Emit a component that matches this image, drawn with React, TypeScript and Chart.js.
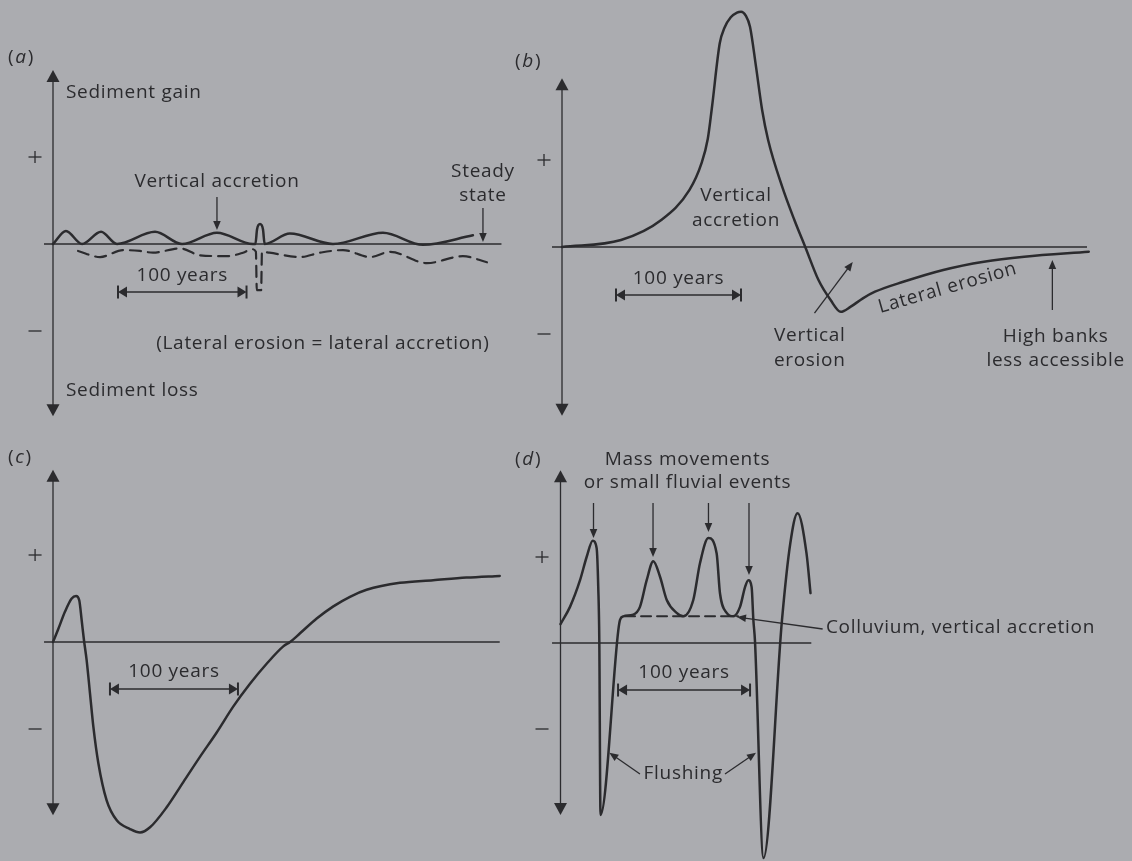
import React, { useEffect, useRef } from "react";
import { Chart, registerables } from "chart.js";

Chart.register(...registerables);

const W = 1132;
const H = 861;
const BG = "#abacb0";
const INK = "#2b2b2e";
const FONT_FAMILY = '"Open Sans", "Noto Sans", sans-serif';
const FONT_SIZE = 19;

// ---------- DATA (x: years, y: relative sediment balance; + = 1, − = −1) ----------
// (a) steady state
const aVerticalYears = [0, 10.1, 22.6, 37.4, 49.8, 79.4, 100.4, 127.6, 155.6, 157.5, 158.8, 161.1, 163.4, 164.7, 184.4, 217.9, 256.8, 287.9, 326.8];
const aVerticalValues = [0, 0.15, 0, 0.14, 0, 0.14, 0, 0.13, 0, 0, 0.17, 0.23, 0.17, 0, 0.12, 0, 0.13, -0.01, 0.1];
const aLateralYears = [19.5, 36.6, 54.5, 67.7, 77.8, 98.8, 114.4, 135.4, 147.9, 154.9, 157.9, 158.6, 162.0, 162.6, 168.4, 192.2, 207.8, 225.7, 246.7, 262.3, 291, 319, 337.7];
const aLateralValues = [-0.08, -0.15, -0.07, -0.08, -0.1, -0.05, -0.13, -0.14, -0.1, -0.06, -0.09, -0.53, -0.53, -0.09, -0.1, -0.15, -0.1, -0.07, -0.15, -0.09, -0.22, -0.14, -0.21];

// (b)
const bYears = [0, 47.2, 79.4, 102, 111.7, 116.6, 119.8, 126.2, 130, 135, 140, 143.3, 147, 150.4, 155.2, 160.1, 164.9, 176.2, 185.9, 194.6, 205.2, 214.9, 223, 231, 240.7, 250.4, 273, 305, 337.5, 369.8, 421.4];
const bValues = [0, 0.08, 0.31, 0.656, 0.966, 1.241, 1.586, 2.341, 2.52, 2.64, 2.695, 2.705, 2.66, 2.532, 2.073, 1.575, 1.23, 0.69, 0.31, 0, -0.38, -0.61, -0.745, -0.686, -0.59, -0.514, -0.4, -0.264, -0.169, -0.111, -0.054];

// (c)
const cYears = [0, 3.9, 9.4, 14.6, 18, 20.5, 22.4, 24.2, 26.3, 28.9, 31.5, 35.4, 41.9, 49.8, 60.2, 68, 75.8, 88.8, 101.8, 114.8, 127.9, 140.9, 153.9, 166.9, 179.9, 185.2, 193, 206, 219, 232, 245, 271, 297, 323, 349];
const cValues = [0, 0.14, 0.35, 0.5, 0.53, 0.48, 0.25, 0.02, -0.21, -0.59, -0.97, -1.39, -1.82, -2.05, -2.15, -2.19, -2.13, -1.9, -1.61, -1.32, -1.04, -0.74, -0.48, -0.25, -0.05, 0, 0.1, 0.27, 0.41, 0.52, 0.6, 0.68, 0.71, 0.74, 0.76];

// (d)
const dYears = [0, 7.2, 14.8, 19.8, 24.4, 27.4, 28.6, 29.4, 30.3, 43.8, 45.1, 47.6, 55.2, 60.2, 65.3, 70.3, 75.4, 80.5, 88, 93, 100.6, 105.7, 112, 118.3, 120.8, 125.9, 130.9, 136, 139.8, 142.3, 144.8, 146.1, 147.3, 153.8, 167.8, 174.1, 179.6, 186.4, 189.4];
const dValues = [0.22, 0.42, 0.73, 1.0, 1.19, 1.1, 0.65, 0.03, -2.0, 0.15, 0.27, 0.31, 0.33, 0.42, 0.73, 0.95, 0.77, 0.5, 0.35, 0.31, 0.5, 0.93, 1.22, 1.04, 0.58, 0.35, 0.31, 0.42, 0.65, 0.73, 0.65, 0.27, 0.03, -2.5, 0.27, 1.16, 1.51, 1.04, 0.58];
const dColluviumYears = [48.9, 134.5];
const dColluviumValues = [0.31, 0.31];

// ---------- LAYOUT ----------
type Txt = { t: string; x: number; y: number; align?: CanvasTextAlign; rot?: number };
type Arr = [number, number, number, number];
type Series = { xs: number[]; ys: number[]; width: number; dash?: number[] };
type Panel = {
  id: string;
  originPx: number; pxPerYear: number; xMax: number;
  baselinePx: number; pxPerUnit: number; yMin: number; yMax: number;
  series: Series[];
  axis: [number, number];
  baseline: [number, number];
  labelPos: [number, number];
  signX: number;
  texts: Txt[];
  arrows: Arr[];
  bracket: { x0: number; x1: number; y: number; ty: number };
};

const panels: Panel[] = [
  {
    id: "a", originPx: 53, pxPerYear: 1.285, xMax: 349, baselinePx: 244, pxPerUnit: 87, yMin: -2, yMax: 2,
    series: [
      { xs: aVerticalYears, ys: aVerticalValues, width: 2.5 },
      { xs: aLateralYears, ys: aLateralValues, width: 2.2, dash: [11, 7] },
    ],
    axis: [-1.98, 2.0], baseline: [-7, 349], labelPos: [-35, 2.14], signX: -14,
    texts: [
      { t: "Sediment gain", x: 10.1, y: 1.736, align: "left" },
      { t: "Sediment loss", x: 10.1, y: -1.69, align: "left" },
      { t: "Vertical accretion", x: 127.6, y: 0.713 },
      { t: "Steady", x: 334.6, y: 0.828 },
      { t: "state", x: 334.6, y: 0.552 },
      { t: "(Lateral erosion = lateral accretion)", x: 210, y: -1.15 },
    ],
    arrows: [[127.6, 0.54, 127.6, 0.16], [334.6, 0.414, 334.6, 0.023]],
    bracket: { x0: 50.6, x1: 150.6, y: -0.552, ty: -0.368 },
  },
  {
    id: "b", originPx: 562, pxPerYear: 1.25, xMax: 420, baselinePx: 247, pxPerUnit: 87, yMin: -1.95, yMax: 2.8,
    series: [{ xs: bYears, ys: bValues, width: 2.5 }],
    axis: [-1.94, 1.94], baseline: [-8, 420], labelPos: [-37.6, 2.13], signX: -14.4,
    texts: [
      { t: "Vertical", x: 139.2, y: 0.586 },
      { t: "accretion", x: 139.2, y: 0.299 },
      { t: "Vertical", x: 198.2, y: -1.023 },
      { t: "erosion", x: 198.2, y: -1.31 },
      { t: "Lateral erosion", x: 308.5, y: -0.471, rot: -16 },
      { t: "High banks", x: 394.9, y: -1.034 },
      { t: "less accessible", x: 394.9, y: -1.31 },
    ],
    arrows: [[202, -0.759, 232.6, -0.172], [392.3, -0.724, 392.3, -0.149]],
    bracket: { x0: 43.2, x1: 143.2, y: -0.552, ty: -0.368 },
  },
  {
    id: "c", originPx: 53, pxPerYear: 1.28, xMax: 349, baselinePx: 642, pxPerUnit: 87, yMin: -2.25, yMax: 2,
    series: [{ xs: cYears, ys: cValues, width: 2.5 }],
    axis: [-1.99, 1.98], baseline: [-7, 349], labelPos: [-35.2, 2.115], signX: -14,
    texts: [],
    arrows: [],
    bracket: { x0: 44.5, x1: 144.5, y: -0.54, ty: -0.345 },
  },
  {
    id: "d", originPx: 560.5, pxPerYear: 1.32, xMax: 190, baselinePx: 643, pxPerUnit: 86, yMin: -2.52, yMax: 2.05,
    series: [
      { xs: dYears, ys: dValues, width: 2.5 },
      { xs: dColluviumYears, ys: dColluviumValues, width: 2, dash: [10, 6] },
    ],
    axis: [-2.0, 2.01], baseline: [-6.4, 190], labelPos: [-34.5, 2.128], signX: -14,
    texts: [
      { t: "Mass movements", x: 96.2, y: 2.128 },
      { t: "or small fluvial events", x: 96.2, y: 1.86 },
      { t: "Colluvium, vertical accretion", x: 201.1, y: 0.174, align: "left" },
      { t: "Flushing", x: 93, y: -1.523 },
    ],
    arrows: [
      [25, 1.628, 25, 1.221],
      [70.1, 1.628, 70.1, 1.0],
      [112.1, 1.628, 112.1, 1.29],
      [142.8, 1.628, 142.8, 0.79],
      [198.6, 0.163, 133.7, 0.302],
      [60.2, -1.523, 37, -1.276],
      [124.6, -1.523, 148.1, -1.276],
    ],
    bracket: { x0: 43.6, x1: 143.6, y: -0.547, ty: -0.349 },
  },
];

// ---------- drawing helpers ----------
function seg(ctx: CanvasRenderingContext2D, x1: number, y1: number, x2: number, y2: number) {
  ctx.beginPath();
  ctx.moveTo(x1, y1);
  ctx.lineTo(x2, y2);
  ctx.stroke();
}

function head(ctx: CanvasRenderingContext2D, tx: number, ty: number, dx: number, dy: number, len: number, hw: number) {
  const l = Math.hypot(dx, dy) || 1;
  const ux = dx / l, uy = dy / l;
  const bx = tx - ux * len, by = ty - uy * len;
  ctx.beginPath();
  ctx.moveTo(tx, ty);
  ctx.lineTo(bx - uy * hw, by + ux * hw);
  ctx.lineTo(bx + uy * hw, by - ux * hw);
  ctx.closePath();
  ctx.fill();
}

function arrow(ctx: CanvasRenderingContext2D, x1: number, y1: number, x2: number, y2: number) {
  const len = 9;
  const dx = x2 - x1, dy = y2 - y1;
  const l = Math.hypot(dx, dy) || 1;
  seg(ctx, x1, y1, x2 - (dx / l) * (len - 1), y2 - (dy / l) * (len - 1));
  head(ctx, x2, y2, dx, dy, len, 3.8);
}

function setFont(ctx: CanvasRenderingContext2D, italic = false) {
  ctx.font = `${italic ? "italic " : ""}${FONT_SIZE}px ${FONT_FAMILY}`;
  (ctx as any).letterSpacing = "0.7px";
}

function decor(p: Panel) {
  return {
    id: "decor" + p.id,
    beforeDatasetsDraw(chart: any) {
      const ctx: CanvasRenderingContext2D = chart.ctx;
      const X = (v: number) => chart.scales.x.getPixelForValue(v);
      const Y = (v: number) => chart.scales.y.getPixelForValue(v);
      ctx.save();
      ctx.strokeStyle = INK;
      ctx.fillStyle = INK;
      ctx.lineWidth = 1.3;
      seg(ctx, X(p.baseline[0]), Y(0), X(p.baseline[1]), Y(0));
      const ax = X(0);
      seg(ctx, ax, Y(p.axis[0]) - 6, ax, Y(p.axis[1]) + 6);
      head(ctx, ax, Y(p.axis[1]), 0, -1, 12, 6.5);
      head(ctx, ax, Y(p.axis[0]), 0, 1, 12, 6.5);
      ctx.restore();
    },
    afterDatasetsDraw(chart: any) {
      const ctx: CanvasRenderingContext2D = chart.ctx;
      const X = (v: number) => chart.scales.x.getPixelForValue(v);
      const Y = (v: number) => chart.scales.y.getPixelForValue(v);
      ctx.save();
      ctx.strokeStyle = INK;
      ctx.fillStyle = INK;
      ctx.lineWidth = 1.3;
      // + and − signs
      const sx = X(p.signX);
      seg(ctx, sx - 6.5, Y(1), sx + 6.5, Y(1));
      seg(ctx, sx, Y(1) - 6, sx, Y(1) + 6);
      seg(ctx, sx - 6.5, Y(-1), sx + 6.5, Y(-1));
      // annotation arrows
      for (const a of p.arrows) arrow(ctx, X(a[0]), Y(a[1]), X(a[2]), Y(a[3]));
      // 100 years bracket
      const bx0 = X(p.bracket.x0), bx1 = X(p.bracket.x1), by = Y(p.bracket.y);
      ctx.lineWidth = 1.4;
      seg(ctx, bx0 + 6, by, bx1 - 6, by);
      ctx.lineWidth = 2;
      seg(ctx, bx0, by - 6.5, bx0, by + 6.5);
      seg(ctx, bx1, by - 6.5, bx1, by + 6.5);
      head(ctx, bx0, by, -1, 0, 9, 5.5);
      head(ctx, bx1, by, 1, 0, 9, 5.5);
      // texts
      ctx.textBaseline = "middle";
      setFont(ctx);
      ctx.textAlign = "center";
      ctx.fillText("100 years", X((p.bracket.x0 + p.bracket.x1) / 2), Y(p.bracket.ty));
      for (const t of p.texts) {
        ctx.save();
        ctx.textAlign = t.align || "center";
        ctx.translate(X(t.x), Y(t.y));
        if (t.rot) ctx.rotate((t.rot * Math.PI) / 180);
        ctx.fillText(t.t, 0, 0);
        ctx.restore();
      }
      // panel label "(x)"
      ctx.textAlign = "left";
      let lx = X(p.labelPos[0]);
      const ly = Y(p.labelPos[1]);
      setFont(ctx);
      ctx.fillText("(", lx, ly);
      lx += ctx.measureText("(").width + 1;
      setFont(ctx, true);
      ctx.fillText(p.id, lx, ly);
      lx += ctx.measureText(p.id).width + 1;
      setFont(ctx);
      ctx.fillText(")", lx, ly);
      (ctx as any).letterSpacing = "0px";
      ctx.restore();
    },
  };
}

function PanelChart({ p }: { p: Panel }) {
  const ref = useRef<HTMLCanvasElement | null>(null);
  useEffect(() => {
    if (!ref.current) return;
    const left = p.originPx;
    const right = p.originPx + p.xMax * p.pxPerYear;
    const top = p.baselinePx - p.yMax * p.pxPerUnit;
    const bottom = p.baselinePx - p.yMin * p.pxPerUnit;
    const chart = new Chart(ref.current, {
      type: "line",
      data: {
        datasets: p.series.map((s) => ({
          data: s.xs.map((x, i) => ({ x, y: s.ys[i] })),
          borderColor: INK,
          borderWidth: s.width,
          borderDash: s.dash || [],
          borderCapStyle: "round",
          borderJoinStyle: "round",
          pointRadius: 0,
          cubicInterpolationMode: "monotone",
          fill: false,
          clip: false,
        })),
      } as any,
      options: {
        responsive: false,
        animation: false,
        events: [],
        layout: { padding: { left, top, right: W - right, bottom: H - bottom } },
        scales: {
          x: { type: "linear", min: 0, max: p.xMax, display: false },
          y: { type: "linear", min: p.yMin, max: p.yMax, display: false },
        },
        plugins: { legend: { display: false }, tooltip: { enabled: false } },
      } as any,
      plugins: [decor(p) as any],
    });
    return () => chart.destroy();
  }, [p]);
  return (
    <canvas
      ref={ref}
      width={W}
      height={H}
      style={{ position: "absolute", left: 0, top: 0, width: W, height: H }}
    />
  );
}

export default function App() {
  return (
    <div style={{ position: "fixed", left: 0, top: 0, width: W, height: H, background: BG, overflow: "hidden" }}>
      {panels.map((p) => (
        <PanelChart key={p.id} p={p} />
      ))}
    </div>
  );
}
